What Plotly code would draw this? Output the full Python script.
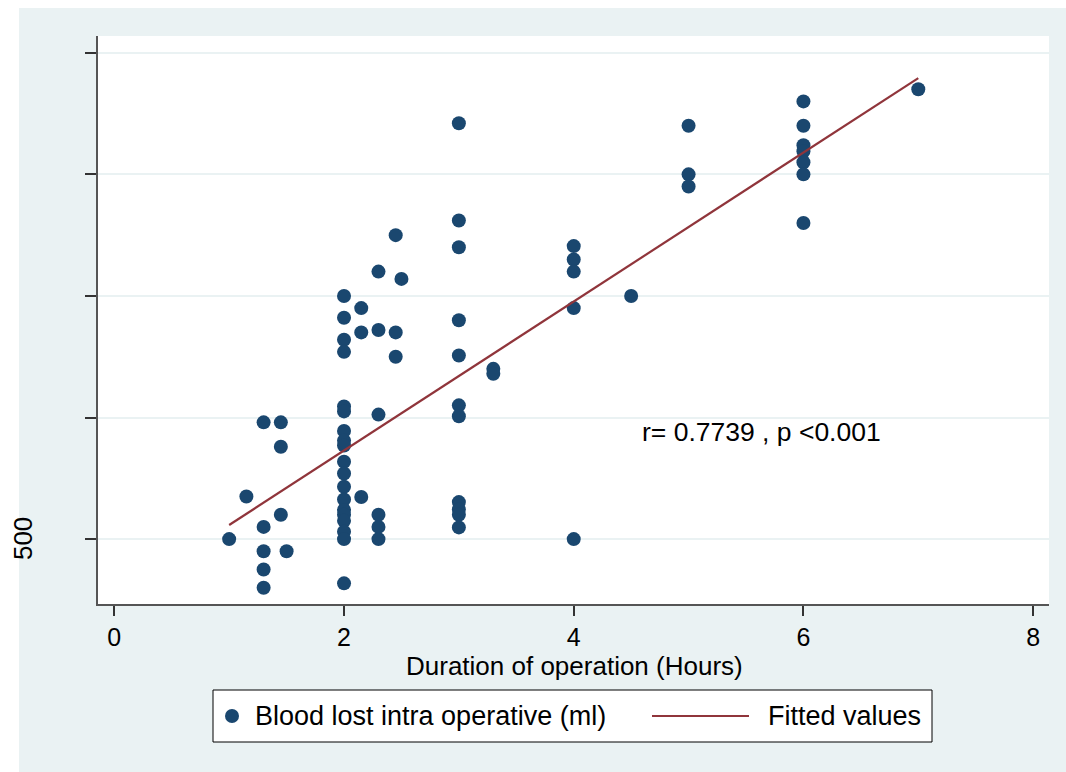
import plotly.graph_objects as go

# ---- data ----
duration_hours = (
    [1.0] + [1.15] + [1.3] * 5 + [1.45] * 3 + [1.5]
    + [2.0] * 19 + [2.15] * 3 + [2.3] * 6 + [2.45] * 3 + [2.5]
    + [3.0] * 11 + [3.3] * 2 + [4.0] * 5 + [4.5] + [5.0] * 3 + [6.0] * 7 + [7.0]
)
blood_loss_ml = (
    [500] + [675] + [980, 550, 450, 375, 300] + [980, 880, 600] + [450]
    + [1500, 1410, 1320, 1270, 1045, 1025, 945, 905, 885, 818, 770, 715,
       663, 620, 600, 575, 530, 500, 318]
    + [1450, 1350, 673] + [1600, 1360, 1012, 600, 550, 500] + [1750, 1350, 1250] + [1570]
    + [2210, 1810, 1700, 1400, 1255, 1050, 1005, 652, 622, 600, 548]
    + [1200, 1180] + [1705, 1650, 1600, 1450, 500] + [1500]
    + [2200, 2000, 1950] + [2300, 2200, 2120, 2095, 2050, 2000, 1800] + [2350]
)
fit_x = [1.0, 7.0]
fit_y = [558, 2396]

x_ticks = [0, 2, 4, 6, 8]
y_ticks = [500, 1000, 1500, 2000, 2500]
y_ticktext = ["", "", "", "", ""]

annot_text = "r= 0.7739 , p <0.001"
x_title = "Duration of operation (Hours)"
legend_labels = ["Blood lost intra operative (ml)", "Fitted values"]

NAVY = "#1a476f"
MAROON = "#90353b"
BG = "#EAF2F3"
FONT = "Liberation Sans, Arial, sans-serif"

W, H = 1066, 772
L, R, T, B = 98, 17, 36, 168
PW, PH = W - L - R, H - T - B


def px(xpix):
    return (xpix - L) / PW


def py(ypix):
    return (H - B - ypix) / PH


fig = go.Figure()
fig.add_trace(go.Scatter(
    x=duration_hours, y=blood_loss_ml, mode="markers",
    marker=dict(color=NAVY, size=14, line=dict(width=0)),
    name=legend_labels[0], showlegend=False,
))
fig.add_trace(go.Scatter(
    x=fit_x, y=fit_y, mode="lines",
    line=dict(color=MAROON, width=2.2),
    name=legend_labels[1], showlegend=False,
))

shapes = [
    # white strips outside the grey frame
    dict(type="rect", xref="paper", yref="paper", x0=px(0), x1=px(19), y0=py(H), y1=py(0),
         fillcolor="white", line=dict(width=0), layer="below"),
    dict(type="rect", xref="paper", yref="paper", x0=px(0), x1=px(W), y0=py(8), y1=py(0),
         fillcolor="white", line=dict(width=0), layer="below"),
    # legend box
    dict(type="rect", xref="paper", yref="paper", x0=px(213), x1=px(932), y0=py(742), y1=py(690),
         fillcolor="white", line=dict(color="black", width=1)),
    dict(type="circle", xref="paper", yref="paper", x0=px(225), x1=px(239), y0=py(723), y1=py(709),
         fillcolor=NAVY, line=dict(width=0)),
    dict(type="line", xref="paper", yref="paper", x0=px(652), x1=px(749), y0=py(716), y1=py(716),
         line=dict(color=MAROON, width=2.2)),
]

annotations = [
    dict(text=annot_text, x=4.575, y=940, xref="x", yref="y", xanchor="left", yanchor="middle",
         showarrow=False, font=dict(size=26.5, color="black", family=FONT)),
    dict(text="500", x=px(23), y=500, xref="paper", yref="y", textangle=-90,
         xanchor="center", yanchor="middle", showarrow=False,
         font=dict(size=26, color="black", family=FONT)),
    dict(text=x_title, x=px(574), y=py(666), xref="paper", yref="paper",
         xanchor="center", yanchor="middle", showarrow=False,
         font=dict(size=26, color="black", family=FONT)),
    dict(text=legend_labels[0], x=px(253), y=py(716), xref="paper", yref="paper",
         xanchor="left", yanchor="middle", showarrow=False,
         font=dict(size=27, color="black", family=FONT)),
    dict(text=legend_labels[1], x=px(766), y=py(716), xref="paper", yref="paper",
         xanchor="left", yanchor="middle", showarrow=False,
         font=dict(size=27, color="black", family=FONT)),
]

fig.update_layout(
    width=W, height=H,
    margin=dict(l=L, r=R, t=T, b=B, pad=0),
    paper_bgcolor=BG, plot_bgcolor="white",
    font=dict(family=FONT, size=25, color="black"),
    shapes=shapes, annotations=annotations, showlegend=False,
    xaxis=dict(
        range=[-0.142, 8.138], tickvals=x_ticks, ticks="outside", ticklen=10,
        tickwidth=1.5, tickcolor="#333333", showline=True, linecolor="#555555", linewidth=1.5,
        showgrid=False, zeroline=False, tickfont=dict(size=25, family=FONT, color="black"),
    ),
    yaxis=dict(
        range=[233, 2569], tickvals=y_ticks, ticktext=y_ticktext, ticks="outside", ticklen=11,
        tickwidth=1.5, tickcolor="#333333", showline=True, linecolor="#555555", linewidth=1.5,
        showgrid=True, gridcolor=BG, gridwidth=2, zeroline=False,
    ),
)

fig.write_html("out.html")
